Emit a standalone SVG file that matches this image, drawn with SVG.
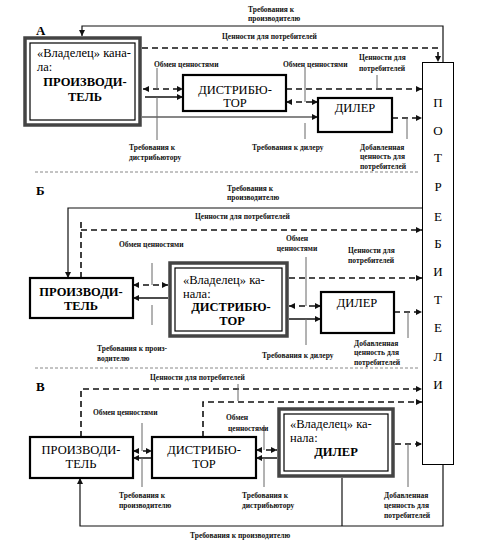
<svg xmlns="http://www.w3.org/2000/svg" width="478" height="553" viewBox="0 0 478 553" font-family="'Liberation Serif', 'DejaVu Serif', serif">
<style>
text{font-family:'Liberation Serif','DejaVu Serif',serif}
.bg{fill:#fff}
.box{fill:#fff;stroke:#000;stroke-width:2.2}
.own-o{fill:#fff;stroke:#444;stroke-width:3.5}
.own-i{fill:none;stroke:#000;stroke-width:1.2}
.cons{fill:#fff;stroke:#000;stroke-width:1}
.sol{fill:none;stroke:#111;stroke-width:1.2}
.sol2{fill:none;stroke:#111;stroke-width:1.5}
.dash{fill:none;stroke:#111;stroke-width:1.6;stroke-dasharray:6 4}
.lead{fill:none;stroke:#666;stroke-width:1}
.sep{fill:none;stroke:#888;stroke-width:1;stroke-dasharray:3 2}
.lbl{font-size:7.5px;font-weight:bold;fill:#111}
.t{font-size:12.5px;fill:#000}
.tb{font-size:12.5px;font-weight:bold;fill:#000}
.sec{font-size:13px;font-weight:bold;fill:#000}
.c{font-size:13px;fill:#000;text-anchor:middle}
.m{text-anchor:middle}
</style>
<defs>
<marker id="ar" viewBox="0 0 6 6" refX="6" refY="3" markerWidth="6" markerHeight="6" markerUnits="userSpaceOnUse" orient="auto-start-reverse">
<path d="M0,0 L6,3 L0,6 z" fill="#111"/>
</marker>
</defs>
<rect class="bg" x="0" y="0" width="478" height="553"/>

<g id="connectors">
<path class="sol" d="M443,62 V26 H82 V36" marker-end="url(#ar)"/>
<path class="dash" d="M142,48 H438 V62" marker-end="url(#ar)"/>
<path class="sol" d="M142,117 H318" marker-end="url(#ar)"/>
<path class="dash" d="M143,89 H183" marker-start="url(#ar)" marker-end="url(#ar)"/>
<path class="sol2" d="M145,97 H183" marker-end="url(#ar)"/>
<path class="lead" d="M157,68 V89 M157,97 V140"/>
<path class="dash" d="M286,89 H422" marker-end="url(#ar)"/>
<path class="lead" d="M377,75 V89"/>
<path class="dash" d="M286,102 H318" marker-start="url(#ar)" marker-end="url(#ar)"/>
<path class="lead" d="M305,67 V102 M305,123 V139"/>
<path class="dash" d="M392,118 H422" marker-end="url(#ar)"/>
<path class="lead" d="M407,118 V139"/>
<path class="sep" d="M35,172 H420"/>
<path class="sol" d="M422,208 H68 V278" marker-end="url(#ar)"/>
<path class="dash" d="M81,222 V278"/>
<path class="dash" d="M81,230 H422" marker-end="url(#ar)"/>
<path class="dash" d="M133,285 H168" marker-start="url(#ar)" marker-end="url(#ar)"/>
<path class="sol2" d="M168,298 H133" marker-end="url(#ar)"/>
<path class="lead" d="M152,263 V285 M152,305 V325"/>
<path class="dash" d="M289,278 H422" marker-end="url(#ar)"/>
<path class="dash" d="M289,306 H321" marker-start="url(#ar)" marker-end="url(#ar)"/>
<path class="sol2" d="M289,319 H321" marker-end="url(#ar)"/>
<path class="lead" d="M306,257 V306 M306,319 V345"/>
<path class="dash" d="M394,312 H422" marker-end="url(#ar)"/>
<path class="lead" d="M408,312 V338"/>
<path class="sep" d="M35,368 H420"/>
<path class="dash" d="M81,437 V389 H422" marker-end="url(#ar)"/>
<path class="lead" d="M238,384 V401"/>
<path class="dash" d="M203,437 V402 H422" marker-end="url(#ar)"/>
<path class="dash" d="M133,451 H152" marker-start="url(#ar)" marker-end="url(#ar)"/>
<path class="sol2" d="M152,458 H133" marker-end="url(#ar)"/>
<path class="lead" d="M142,423 V451 M142,458 V487"/>
<path class="dash" d="M256,450 H277" marker-start="url(#ar)" marker-end="url(#ar)"/>
<path class="sol2" d="M277,458 H256" marker-end="url(#ar)"/>
<path class="lead" d="M264,425 V450 M264,458 V487"/>
<path class="dash" d="M395,444 H422" marker-end="url(#ar)"/>
<path class="lead" d="M408,444 V487"/>
<path class="sol" d="M443,465 V526 H80 V478" marker-end="url(#ar)"/>
<path class="sol" d="M342,478 V526"/>
</g>

<g id="labels">
<text class="lbl" x="248" y="12">Требования к</text>
<text class="lbl" x="248" y="21">производителю</text>
<text class="lbl" x="222" y="39">Ценности для потребителей</text>
<text class="lbl" x="154" y="67">Обмен ценностями</text>
<text class="lbl" x="283" y="67">Обмен ценностями</text>
<text class="lbl" x="359" y="60">Ценности для</text>
<text class="lbl" x="359" y="71">потребителей</text>
<text class="lbl" x="129" y="150">Требования к</text>
<text class="lbl" x="129" y="160">дистрибьютору</text>
<text class="lbl" x="252" y="150">Требования к дилеру</text>
<text class="lbl" x="360" y="150">Добавленная</text>
<text class="lbl" x="360" y="159">ценность для</text>
<text class="lbl" x="360" y="169">потребителей</text>

<text class="lbl" x="227" y="191">Требования к</text>
<text class="lbl" x="227" y="200">производителю</text>
<text class="lbl" x="195" y="219">Ценности для потребителей</text>
<text class="lbl" x="119" y="247">Обмен ценностями</text>
<text class="lbl" x="97" y="351">Требования к произ-</text>
<text class="lbl" x="97" y="361">водителю</text>
<text class="lbl" x="348" y="253">Ценности для</text>
<text class="lbl" x="348" y="263">потребителей</text>
<text class="lbl m" x="297" y="241">Обмен</text>
<text class="lbl m" x="297" y="251">ценностями</text>
<text class="lbl" x="262" y="358">Требования к дилеру</text>
<text class="lbl" x="354" y="346">Добавленная</text>
<text class="lbl" x="354" y="355">ценность для</text>
<text class="lbl" x="354" y="365">потребителей</text>

<text class="lbl" x="150" y="380">Ценности для потребителей</text>
<text class="lbl" x="93" y="415">Обмен ценностями</text>
<text class="lbl" x="226" y="420">Обмен</text>
<text class="lbl" x="228" y="431">ценностями</text>
<text class="lbl" x="119" y="498">Требования к</text>
<text class="lbl" x="119" y="508">производителю</text>
<text class="lbl" x="242" y="498">Требования к</text>
<text class="lbl" x="242" y="508">дистрибьютору</text>
<text class="lbl" x="384" y="498">Добавленная</text>
<text class="lbl" x="384" y="508">ценность для</text>
<text class="lbl" x="384" y="518">потребителей</text>
<text class="lbl" x="190" y="538">Требования к производителю</text>

<text class="sec" x="36" y="35">А</text>
<text class="sec" x="36" y="195">Б</text>
<text class="sec" x="36" y="391">В</text>
</g>

<g id="consumers">
<rect class="cons" x="422.5" y="62.5" width="31" height="402"/>
<text class="c" x="438" y="107">П</text>
<text class="c" x="438" y="135">О</text>
<text class="c" x="438" y="162">Т</text>
<text class="c" x="438" y="191">Р</text>
<text class="c" x="438" y="221">Е</text>
<text class="c" x="438" y="248">Б</text>
<text class="c" x="438" y="276">И</text>
<text class="c" x="438" y="304">Т</text>
<text class="c" x="438" y="332">Е</text>
<text class="c" x="438" y="361">Л</text>
<text class="c" x="438" y="389">И</text>
</g>

<g id="A-producer">
<rect class="own-o" x="25" y="38" width="115" height="87"/>
<rect class="own-i" x="30" y="43" width="105" height="77"/>
<text class="t" x="37" y="57">«Владелец» кана-</text>
<text class="t" x="37" y="71">ла:</text>
<text class="tb m" x="85" y="86">ПРОИЗВОДИ-</text>
<text class="tb m" x="85" y="101">ТЕЛЬ</text>
</g>
<g id="A-distributor">
<rect class="box" x="183" y="75" width="103" height="36"/>
<text class="t m" x="235" y="94">ДИСТРИБЮ-</text>
<text class="t m" x="235" y="107">ТОР</text>
</g>
<g id="A-dealer">
<rect class="box" x="318" y="98" width="74" height="34"/>
<text class="t m" x="355" y="112">ДИЛЕР</text>
</g>

<g id="B-producer">
<rect class="box" x="30" y="278" width="103" height="40"/>
<text class="tb m" x="81" y="296">ПРОИЗВОДИ-</text>
<text class="tb m" x="81" y="310">ТЕЛЬ</text>
</g>
<g id="B-distributor">
<rect class="own-o" x="170" y="263" width="117" height="73"/>
<rect class="own-i" x="175" y="268" width="107" height="63"/>
<text class="t" x="183" y="284">«Владелец» ка-</text>
<text class="t" x="183" y="298">нала:</text>
<text class="tb m" x="231" y="311">ДИСТРИБЮ-</text>
<text class="tb m" x="232" y="325">ТОР</text>
</g>
<g id="B-dealer">
<rect class="box" x="321" y="292" width="73" height="41"/>
<text class="t m" x="357" y="307">ДИЛЕР</text>
</g>

<g id="V-producer">
<rect class="box" x="30" y="437" width="103" height="41"/>
<text class="t m" x="81" y="454">ПРОИЗВОДИ-</text>
<text class="t m" x="81" y="468">ТЕЛЬ</text>
</g>
<g id="V-distributor">
<rect class="box" x="152" y="437" width="104" height="41"/>
<text class="t m" x="204" y="454">ДИСТРИБЮ-</text>
<text class="t m" x="204" y="468">ТОР</text>
</g>
<g id="V-dealer">
<rect class="own-o" x="279" y="409" width="114" height="67"/>
<rect class="own-i" x="284" y="414" width="104" height="57"/>
<text class="t" x="290" y="428">«Владелец» ка-</text>
<text class="t" x="290" y="442">нала:</text>
<text class="tb m" x="336" y="456">ДИЛЕР</text>
</g>
</svg>
